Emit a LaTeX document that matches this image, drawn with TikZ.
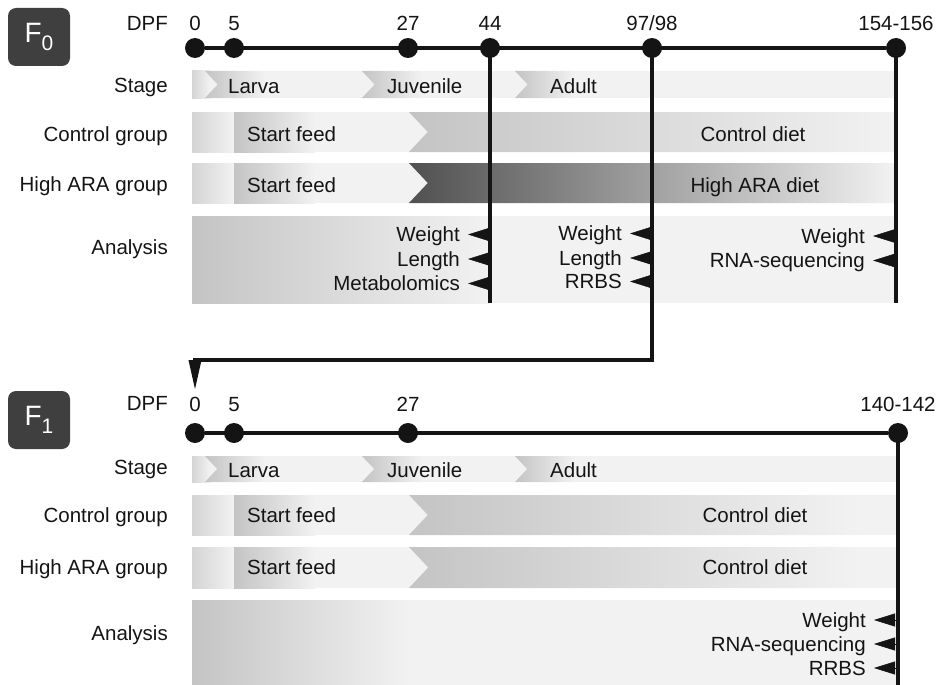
\documentclass[tikz,border=0pt]{standalone}
\usepackage{fontspec}
\setmainfont{Liberation Sans}
\usetikzlibrary{arrows.meta}
\definecolor{ink}{HTML}{141414}
\definecolor{slab}{HTML}{3F3F3F}
\definecolor{pale}{HTML}{F2F2F2}
\definecolor{lite}{HTML}{D4D4D4}
\definecolor{mid}{HTML}{C4C4C4}
\definecolor{dark}{HTML}{505050}

% notched row segment: x0, x1, top, bottom, start colour
\newcommand{\notchseg}[5]{%
  \shade[left color=#5,right color=pale] (#1,#3) -- (#2,#3) -- (#2,#4)
    -- (#1,#4) -- ({#1+0.47*(#4-#3)},{(#3+#4)/2}) -- cycle;}

\begin{document}
\begin{tikzpicture}[x=1pt,y=-1pt,font=\fontsize{20.5}{24}\selectfont,text=ink,
  lbl/.style={inner sep=0pt,text height=14.7pt,text depth=0pt},
  dot/.style={circle,fill=ink,inner sep=0pt,minimum size=20pt},
  tline/.style={draw=ink,line width=3.5pt},
  probe/.style={draw=ink,line width=.5pt,-{Triangle[length=21pt,width=13pt]},shorten >=8pt},
  gen/.style={rectangle,rounded corners=8pt,fill=slab,text=white,
    minimum width=62pt,minimum height=58pt,font=\fontsize{28}{28}\selectfont}]
  \useasboundingbox (0,0) rectangle (940,685);

  % rows of both panels
  \foreach \ya/\yb/\xe in {71/98/896,456/482/898} {
    \fill[pale] (192,\ya) rectangle (\xe,\yb);
    \shade[left color=lite,right color=pale] (192,\ya) rectangle (210,\yb);
    \foreach \x in {205,362,515} {\notchseg{\x}{\x+60}{\ya}{\yb}{mid}}
  }
  \foreach \ya/\yb/\xe/\xg/\c in {112/152/896/896/mid,163/203/896/896/dark,
      495/535/898/860/mid,547/588/898/860/mid} {
    \fill[pale] (192,\ya) rectangle (\xe,\yb);
    \shade[left color=lite,right color=pale] (192,\ya) rectangle (234,\yb);
    \shade[left color=mid,right color=pale] (234,\ya) rectangle (315,\yb);
    \notchseg{409}{\xg}{\ya}{\yb}{\c}
  }
  \foreach \ya/\yb/\xe/\xg in {216/303/896/490,600/685/898/410} {
    \fill[pale] (192,\ya) rectangle (\xe,\yb);
    \shade[left color=mid,right color=pale] (192,\ya) rectangle (\xg,\yb);
  }

  % ---- F0 ----
  \node[gen] (g0) at (39,37) {F\raisebox{-8pt}{\fontsize{21}{21}\selectfont 0}};
  \foreach \y/\t/\id in {23/DPF/dpf,85.5/Stage/stg,134/Control group/ctl,
      184.5/High ARA group/hig,247/Analysis/ana}
    \node[lbl,anchor=east] (\id0) at (168,\y) {\t};
  \foreach \x/\t/\id in {195/0/a,234/5/b,408/27/c,490/44/d,652/{97/98}/e,896/{154-156}/f} {
    \node[lbl] (t0\id) at (\x,23) {\t};
    \node[dot] (d0\id) at (\x,48) {};
  }
  \draw[tline] (d0a) -- (d0f);

  \node[lbl,anchor=west] (lv0) at (228,86) {Larva};
  \node[lbl,anchor=west] (jv0) at (387,86) {Juvenile};
  \node[lbl,anchor=west] (ad0) at (550,86) {Adult};
  \node[lbl,anchor=west] (sf0a) at (247,134.5) {Start feed};
  \node[lbl,anchor=west] (sf0b) at (247,185) {Start feed};
  \node[lbl] (cd0) at (753,134) {Control diet};
  \node[lbl] (hd0) at (755,185) {High ARA diet};

  \coordinate (e0d) at (490,303);
  \coordinate (e0f) at (896,303);
  \coordinate (bend) at (195,360);
  \coordinate (f1in) at (195,390);
  \draw[tline] (d0d.center) -- (e0d);
  \draw[tline] (d0f.center) -- (e0f);
  \draw[tline,-{Triangle[length=30pt,width=12pt]}] (d0e.center) |- (bend) -- (f1in);

  \foreach \y/\t/\id in {234.5/Weight/w,259/Length/l,283.5/Metabolomics/m} {
    \node[lbl,anchor=east] (p0d\id) at (460,\y) {\t};
    \draw[probe] (p0d\id -| d0d) -- (p0d\id);
  }
  \foreach \y/\t/\id in {233.5/Weight/w,258/Length/l,281.5/RRBS/r} {
    \node[lbl,anchor=east] (p0e\id) at (622,\y) {\t};
    \draw[probe] (p0e\id -| d0e) -- (p0e\id);
  }
  \foreach \y/\t/\id in {236/Weight/w,260.5/RNA-sequencing/s} {
    \node[lbl,anchor=east] (p0f\id) at (865,\y) {\t};
    \draw[probe] (p0f\id -| d0f) -- (p0f\id);
  }

  % ---- F1 ----
  \node[gen] (g1) at (39,420) {F\raisebox{-8pt}{\fontsize{21}{21}\selectfont 1}};
  \foreach \y/\t/\id in {403.5/DPF/dpf,467/Stage/stg,515.5/Control group/ctl,
      567.5/High ARA group/hig,633/Analysis/ana}
    \node[lbl,anchor=east] (\id1) at (168,\y) {\t};
  \foreach \x/\t/\id in {195/0/a,234/5/b,408/27/c,898/{140-142}/f} {
    \node[lbl] (t1\id) at (\x,404) {\t};
    \node[dot] (d1\id) at (\x,433) {};
  }
  \draw[tline] (d1a) -- (d1f);

  \node[lbl,anchor=west] (lv1) at (228,470) {Larva};
  \node[lbl,anchor=west] (jv1) at (387,470) {Juvenile};
  \node[lbl,anchor=west] (ad1) at (550,470) {Adult};
  \node[lbl,anchor=west] (sf1a) at (247,515.5) {Start feed};
  \node[lbl,anchor=west] (sf1b) at (247,567.5) {Start feed};
  \node[lbl] (cd1a) at (755,515.5) {Control diet};
  \node[lbl] (cd1b) at (755,567.5) {Control diet};

  \coordinate (e1f) at (898,685);
  \draw[tline] (d1f.center) -- (e1f);
  \foreach \y/\t/\id in {620/Weight/w,644/RNA-sequencing/s,668/RRBS/r} {
    \node[lbl,anchor=east] (p1f\id) at (866,\y) {\t};
    \draw[probe] (p1f\id -| d1f) -- (p1f\id);
  }
\end{tikzpicture}
\end{document}
